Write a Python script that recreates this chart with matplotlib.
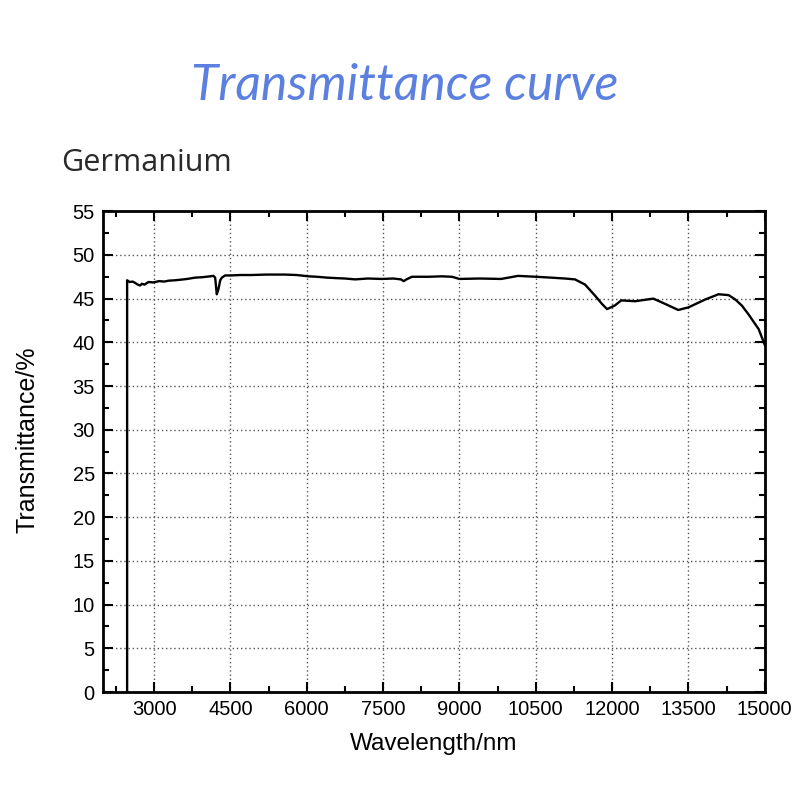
import matplotlib.pyplot as plt
from matplotlib.ticker import MultipleLocator

# Germanium transmittance
wavelength = [2470, 2470, 2520, 2580, 2627, 2680, 2725, 2760, 2810, 2890, 2980,
              3100, 3200, 3283, 3413, 3500, 3650, 3806, 3950, 4100, 4167, 4200,
              4232, 4265, 4300, 4331, 4396, 4500, 4700, 4920, 5200, 5575, 5800,
              6035, 6200, 6400, 6558, 6750, 6951, 7200, 7476, 7700, 7850, 7903,
              7960, 8066, 8400, 8650, 8853, 9000, 9400, 9820, 10150, 10500,
              10800, 11070, 11270, 11470, 11670, 11800, 11900, 12050, 12180,
              12450, 12810, 13040, 13300, 13500, 13830, 14090, 14290, 14420,
              14550, 14680, 14880, 15000]
transmittance = [0.0, 47.1, 46.9, 46.95, 46.8, 46.6, 46.5, 46.7, 46.6, 46.9, 46.85,
                 47.0, 46.95, 47.05, 47.1, 47.15, 47.25, 47.4, 47.45, 47.55, 47.6, 47.4,
                 45.5, 46.1, 47.1, 47.4, 47.65, 47.65, 47.7, 47.7, 47.75, 47.75, 47.7,
                 47.55, 47.5, 47.4, 47.35, 47.3, 47.2, 47.3, 47.25, 47.3, 47.2, 47.0,
                 47.2, 47.5, 47.5, 47.55, 47.5, 47.25, 47.3, 47.25, 47.6, 47.5,
                 47.4, 47.3, 47.2, 46.6, 45.3, 44.4, 43.8, 44.2, 44.8,
                 44.7, 45.0, 44.4, 43.7, 44.0, 44.9, 45.5, 45.4, 44.9,
                 44.2, 43.2, 41.5, 39.7]

x_ticks = [3000, 4500, 6000, 7500, 9000, 10500, 12000, 13500, 15000]
y_ticks = list(range(0, 60, 5))

fig = plt.figure(figsize=(8, 8), dpi=100)
ax = fig.add_axes([0.129, 0.135, 0.827, 0.601])

ax.plot(wavelength, transmittance, color="black", linewidth=1.7)

ax.set_xlim(2000, 15000)
ax.set_ylim(0, 55)
ax.set_xticks(x_ticks)
ax.set_yticks(y_ticks)
ax.xaxis.set_minor_locator(MultipleLocator(750))
ax.yaxis.set_minor_locator(MultipleLocator(2.5))
ax.tick_params(which="both", direction="in", top=True, right=True, width=1.5)
ax.tick_params(which="major", length=7, labelsize=14.5, pad=6)
ax.tick_params(which="minor", length=4)
for lab in ax.get_xticklabels() + ax.get_yticklabels():
    lab.set_family("Liberation Sans")
for sp in ax.spines.values():
    sp.set_linewidth(2)
ax.grid(True, which="major", linestyle=(0, (1, 2)), color="#555555", linewidth=1)

ax.set_xlabel("Wavelength/nm", family="Liberation Sans", fontsize=17.5, labelpad=10)
ax.set_ylabel("Transmittance/%", family="Liberation Sans", fontsize=18)
ax.yaxis.set_label_coords(-0.096, 0.524)

fig.text(0.506, 0.893, "Transmittance curve", ha="center", va="center",
         family="Lato", style="italic", fontsize=36, color="#5b80e0")
fig.text(0.077, 0.796, "Germanium", ha="left", va="center",
         family="Open Sans", fontsize=22, color="#2a2a2a")

fig.savefig("out.png", dpi=100)
